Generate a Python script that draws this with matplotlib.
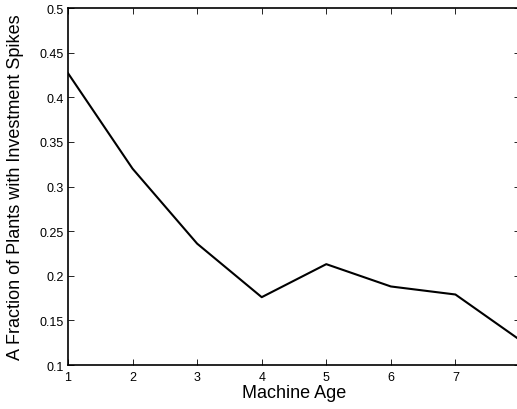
import matplotlib
matplotlib.use('Agg')
import matplotlib.pyplot as plt

plt.rcParams['font.family'] = ['Liberation Sans', 'DejaVu Sans']

# share of plants with an investment spike, by machine age
age = [1, 2, 3, 4, 5, 6, 7, 8]
spike_frac = [0.427, 0.320, 0.236, 0.176, 0.213, 0.188, 0.179, 0.128]

xticks = [1, 2, 3, 4, 5, 6, 7]
yticks = [0.1, 0.15, 0.2, 0.25, 0.3, 0.35, 0.4, 0.45, 0.5]
ytick_labels = ['0.1', '0.15', '0.2', '0.25', '0.3', '0.35', '0.4', '0.45', '0.5']

fig = plt.figure(figsize=(5.17, 4.10), dpi=100)
ax = fig.add_axes([0.1315, 0.1073, 0.8743, 0.8707])

ax.plot(age, spike_frac, color='black', linewidth=1.5)

ax.set_xlim(1, 8)
ax.set_ylim(0.1, 0.5)
ax.set_xticks(xticks)
ax.set_xticklabels([str(t) for t in xticks])
ax.set_yticks(yticks)
ax.set_yticklabels(ytick_labels)
ax.tick_params(direction='in', length=4, width=0.6, top=True, right=True,
               labelsize=9)
ax.tick_params(axis='x', pad=4)
ax.tick_params(axis='y', pad=3)
for s in ax.spines.values():
    s.set_linewidth(1.2)

ax.set_xlabel('Machine Age', fontsize=13, labelpad=1)
ax.set_ylabel('A Fraction of Plants with Investment Spikes', fontsize=13, labelpad=11)

fig.savefig('out.png', dpi=100)
